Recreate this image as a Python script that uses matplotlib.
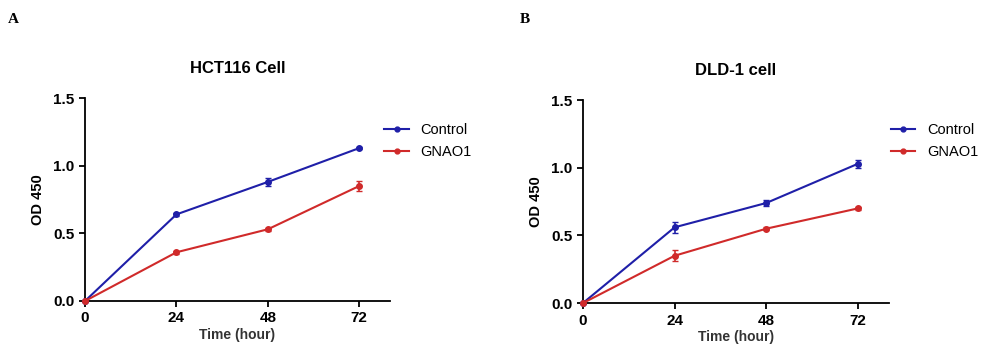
import numpy as np
import matplotlib.pyplot as plt
from matplotlib.lines import Line2D

plt.rcParams['font.family'] = ['Liberation Sans', 'DejaVu Sans']

hours = [0, 24, 48, 72]

# HCT116
hct_ctrl = [0.0, 0.64, 0.88, 1.13]
hct_ctrl_err = [0.0, 0.01, 0.03, 0.01]
hct_gnao1 = [0.0, 0.36, 0.53, 0.85]
hct_gnao1_err = [0.0, 0.01, 0.01, 0.04]

# DLD-1
dld_ctrl = [0.0, 0.56, 0.74, 1.03]
dld_ctrl_err = [0.0, 0.04, 0.02, 0.03]
dld_gnao1 = [0.0, 0.35, 0.55, 0.70]
dld_gnao1_err = [0.0, 0.04, 0.01, 0.01]

blue = '#1f1fa8'
red = '#d02a2a'

fig = plt.figure(figsize=(9.83, 3.5), dpi=100)
ax1 = fig.add_axes([0.0865, 0.14, 0.31, 0.58])
ax2 = fig.add_axes([0.593, 0.134, 0.311, 0.58])

panels = [(ax1, 'HCT116 Cell', hct_ctrl, hct_ctrl_err, hct_gnao1, hct_gnao1_err, 'A', 0.008, 0.385),
          (ax2, 'DLD-1 cell', dld_ctrl, dld_ctrl_err, dld_gnao1, dld_gnao1_err, 'B', 0.529, 0.9)]

for ax, title, c, ce, g, ge, lab, lx, legx in panels:
    ax.errorbar(hours, c, yerr=ce, color=blue, marker='o', markersize=4, linewidth=1.5,
                capsize=2.5, elinewidth=1.2, clip_on=False, zorder=3)
    ax.errorbar(hours, g, yerr=ge, color=red, marker='o', markersize=4, linewidth=1.5,
                capsize=2.5, elinewidth=1.2, clip_on=False, zorder=3)
    ax.set_xlim(0, 80)
    ax.set_ylim(0, 1.5)
    ax.set_xticks(hours)
    ax.set_yticks([0.0, 0.5, 1.0, 1.5])
    ax.set_yticklabels(['0.0', '0.5', '1.0', '1.5'])
    ax.spines['top'].set_visible(False)
    ax.spines['right'].set_visible(False)
    ax.spines['left'].set_linewidth(1.3)
    ax.spines['bottom'].set_linewidth(1.3)
    ax.tick_params(width=1.3, length=4, labelsize=11)
    for t in ax.get_xticklabels() + ax.get_yticklabels():
        t.set_fontweight('bold')
    ax.set_xlabel('Time (hour)', fontsize=10, fontweight='bold', color='#333333', labelpad=2)
    ax.set_ylabel('OD 450', fontsize=10.5, fontweight='bold', labelpad=6)
    ax.set_title(title, fontsize=12, fontweight='bold', pad=18)
    handles = [Line2D([], [], color=blue, marker='o', markersize=3.5, linewidth=1.5),
               Line2D([], [], color=red, marker='o', markersize=3.5, linewidth=1.5)]
    ax.legend(handles, ['Control', 'GNAO1'], loc='upper left', bbox_to_anchor=(legx, 0.665),
              bbox_transform=fig.transFigure, frameon=False, fontsize=10.5,
              handlelength=1.7, handletextpad=0.8, labelspacing=0.55, borderaxespad=0)
    fig.text(lx, 0.935, lab, fontsize=11, fontweight='bold', family='Liberation Serif')

fig.savefig('out.png', dpi=100)
